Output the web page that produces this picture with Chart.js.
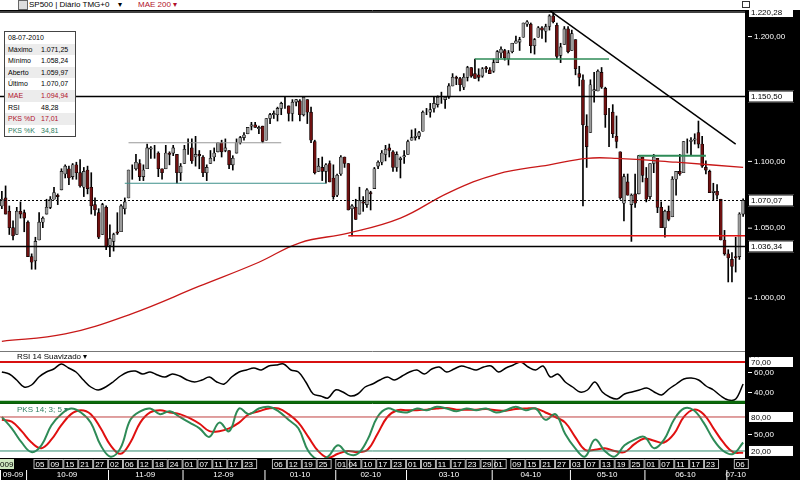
<!DOCTYPE html>
<html><head><meta charset="utf-8">
<script src="https://cdn.jsdelivr.net/npm/chart.js@4.4.1/dist/chart.umd.min.js"></script>
<style>
body{margin:0;width:800px;height:480px;position:relative;background:#fff;font-family:"Liberation Sans",Arial,sans-serif;overflow:hidden}
.cv{position:absolute;left:0;width:800px}
#hdr{position:absolute;left:0;top:0;width:800px;height:10px;font-size:8px;line-height:9px;white-space:nowrap}
.t{position:absolute;font-size:8px;white-space:nowrap}
#info{position:absolute;left:4px;top:31px;width:70px;border:1px solid #444;background:#fff;font-size:7px}
#info div{height:11.6px;line-height:11.6px;padding-left:3px;position:relative}
#info div:nth-child(even){background:#ececec}
#info span{position:absolute;left:36px}
.ic{position:absolute;font-size:8px;line-height:8px}
</style></head><body>
<div class="cv" style="top:10px;height:341px"><canvas id="cp"></canvas></div>
<div class="cv" style="top:351px;height:52px"><canvas id="cr"></canvas></div>
<div class="cv" style="top:403px;height:77px"><canvas id="cs"></canvas></div>
<div id="hdr"><span style="position:absolute;left:18px;top:0;width:8px;height:8px;border:1px solid #666;background:#ddd"></span><span style="position:absolute;left:29px;top:0">SP500 | Diário TMG+0 &nbsp;&nbsp;&nbsp;▾</span><span style="position:absolute;left:138px;top:0;color:#b0102a">MAE 200 ▾</span><span style="position:absolute;left:742px;top:1px;width:6px;height:5px;border:1px solid #333"></span></div>
<div class="t" style="left:17px;top:352px">RSI 14 Suavizado ▾</div>
<div class="t" style="left:17px;top:405px;color:#2e7d60">PKS 14; 3; 5 ▾</div>
<div class="ic" style="left:746px;top:352px">□ ✕</div>
<div class="ic" style="left:746px;top:404px">□ ✕</div>
<div id="info">
<div>08-07-2010</div>
<div>Máximo<span>1.071,25</span></div>
<div>Mínimo<span>1.058,24</span></div>
<div>Aberto<span>1.059,97</span></div>
<div>Último<span>1.070,07</span></div>
<div style="color:#b0102a">MAE<span>1.094,94</span></div>
<div>RSI<span>48,28</span></div>
<div style="color:#b0102a">PKS %D<span>17,01</span></div>
<div style="color:#2e7d60">PKS %K<span>34,81</span></div>
</div>
<script>
// ---- calendar ----
const monthLabels = ['09-09','10-09','11-09','12-09','01-10','02-10','03-10','04-10','05-10','06-10','07-10'];
const monthDays = [
 [22,23,24,25,28,29,30],
 [1,2,5,6,7,8,9,12,13,14,15,16,19,20,21,22,23,26,27,28,29,30],
 [2,3,4,5,6,9,10,11,12,13,16,17,18,19,20,23,24,25,27,30],
 [1,2,3,4,7,8,9,10,11,14,15,16,17,18,21,22,23,24,28,29,30,31],
 [4,5,6,7,8,11,12,13,14,15,19,20,21,22,25,26,27,28,29],
 [1,2,3,4,5,8,9,10,11,12,16,17,18,19,22,23,24,25,26],
 [1,2,3,4,5,8,9,10,11,12,15,16,17,18,19,22,23,24,25,26,29,30,31],
 [1,5,6,7,8,9,12,13,14,15,16,19,20,21,22,23,26,27,28,29,30],
 [3,4,5,6,7,10,11,12,13,14,17,18,19,20,21,24,25,26,27,28],
 [1,2,3,4,7,8,9,10,11,14,15,16,17,18,21,22,23,24,25,28,29,30],
 [1,2,6,7,8]
];
const tickDays = [[],[5,9,15,21,27],[2,6,12,18,24],[1,7,11,17,23],[6,12,19,25],[1,4,10,17,23],[1,5,11,17,23,29],[1,9,15,21,27],[3,7,13,19,25],[1,7,11,17,23],[6]];

// ---- price OHLC ----
const opens = [1066,1072,1062,1050,1045,1062,1061,
1054,1029,1026,1041,1054,1060,1065,1071,1074,1078,1090,1094,1088,1097,1091,1080,1093,1080,1067,1061,1045,1065,
1037,1040,1047,1047,1064,1072,1093,1094,1098,1088,1094,1109,1109,1106,1094,1094,1106,1106,1105,1091,
1098,1109,1110,1103,1105,1103,1091,1098,1103,1107,1114,1108,1108,1097,1106,1114,1118,1121,1127,1128,1125,1127,
1116,1133,1136,1136,1141,1146,1143,1137,1146,1147,1136,1148,1138,1115,1092,1095,1092,1098,1087,
1074,1090,1103,1098,1064,1065,1060,1069,1067,1076,1079,1096,1099,1105,1110,1107,1095,1101,1103,
1105,1116,1118,1119,1123,1138,1138,1141,1144,1150,1148,1150,1159,1166,1165,1158,1166,1174,1169,1168,1167,1174,1172,
1171,1178,1186,1188,1181,1187,1194,1195,1199,1210,1210,1192,1199,1207,1204,1208,1217,1209,1184,1193,1206,
1188,1197,1169,1164,1127,1122,1155,1155,1170,1157,1136,1138,1119,1107,1068,1084,1067,1075,1075,1103,
1087,1073,1098,1102,1065,1050,1062,1058,1086,1092,1091,1114,1115,1116,1122,1113,1095,1092,1076,1077,1071,1041,
1031,1027,1029,1029,1059.97];
const highs = [1077,1081,1066,1055,1065,1069,1063,
1055,1031,1043,1061,1058,1071,1073,1080,1075,1094,1097,1096,1098,1099,1101,1095,1096,1091,1072,1064,1068,1066,
1052,1046,1061,1067,1072,1093,1097,1105,1101,1097,1113,1111,1112,1107,1094,1112,1107,1112,1105,1098,
1112,1117,1117,1119,1108,1104,1097,1108,1110,1114,1116,1117,1108,1104,1117,1119,1122,1126,1130,1130,1127,1127,
1133,1137,1139,1142,1146,1150,1143,1148,1148,1148,1150,1148,1142,1116,1102,1103,1098,1100,1097,
1090,1104,1103,1098,1067,1071,1080,1073,1079,1077,1095,1100,1108,1112,1113,1108,1107,1103,1108,
1116,1124,1125,1123,1139,1141,1145,1150,1151,1154,1150,1161,1169,1167,1166,1169,1175,1174,1181,1173,1174,1175,1174,
1181,1188,1191,1189,1188,1194,1200,1199,1211,1213,1211,1198,1208,1208,1210,1218,1220,1211,1194,1208,1208,
1205,1197,1175,1168,1136,1164,1170,1172,1174,1158,1141,1144,1135,1107,1090,1090,1075,1090,1104,1103,
1095,1098,1105,1102,1069,1063,1066,1088,1092,1105,1115,1117,1118,1121,1131,1119,1100,1093,1083,1082,1071,1048,
1034,1032,1043,1061,1071.25];
const lows = [1064,1060,1045,1041,1045,1057,1047,
1029,1020,1020,1041,1050,1060,1064,1071,1067,1078,1087,1082,1086,1086,1080,1073,1075,1060,1059,1042,1045,1034,
1029,1033,1045,1047,1060,1072,1086,1093,1085,1085,1094,1102,1102,1088,1086,1094,1097,1104,1083,1085,
1098,1105,1098,1096,1094,1088,1085,1098,1100,1107,1103,1107,1094,1093,1106,1113,1116,1121,1124,1126,1121,1114,
1116,1129,1133,1131,1136,1141,1131,1131,1143,1131,1135,1129,1114,1090,1092,1085,1083,1084,1071,
1073,1089,1095,1063,1044,1056,1060,1062,1065,1063,1079,1094,1097,1100,1103,1092,1092,1087,1098,
1105,1116,1116,1117,1123,1136,1134,1138,1142,1145,1141,1149,1159,1160,1155,1156,1163,1166,1165,1163,1166,1170,1169,
1170,1178,1182,1180,1176,1186,1194,1188,1199,1208,1186,1185,1199,1198,1195,1205,1211,1181,1178,1193,1186,
1188,1168,1159,1066,1095,1122,1146,1155,1157,1126,1111,1118,1110,1071,1055,1074,1040,1065,1075,1084,
1069,1071,1091,1061,1050,1043,1055,1058,1074,1089,1091,1106,1104,1113,1110,1095,1090,1076,1070,1071,1041,1030,
1011,1011,1018,1027,1058.24];
const closes = [1071,1060,1050,1044,1062,1060,1057,
1029,1025,1040,1054,1057,1065,1071,1076,1073,1092,1096,1087,1097,1091,1081,1092,1079,1066,1063,1043,1067,1036,
1042,1045,1046,1066,1069,1093,1093,1099,1088,1093,1110,1110,1109,1094,1091,1106,1105,1110,1091,1096,
1109,1109,1100,1105,1104,1091,1095,1102,1106,1114,1107,1110,1097,1102,1114,1118,1120,1126,1128,1126,1126,1115,
1133,1136,1137,1141,1145,1146,1137,1146,1148,1136,1150,1138,1116,1091,1096,1092,1097,1084,1073,
1089,1103,1098,1063,1066,1056,1070,1068,1078,1075,1094,1099,1106,1109,1108,1095,1105,1102,1104,
1115,1118,1119,1122,1138,1138,1140,1145,1150,1150,1150,1159,1166,1165,1160,1166,1174,1167,1165,1166,1173,1173,1169,
1178,1187,1189,1182,1186,1194,1196,1197,1211,1212,1192,1197,1207,1205,1208,1217,1212,1183,1191,1206,1187,
1202,1173,1166,1128,1111,1160,1156,1171,1158,1136,1136,1121,1115,1072,1088,1074,1074,1068,1104,1089,
1071,1098,1103,1065,1050,1062,1056,1086,1092,1090,1115,1114,1116,1117,1113,1096,1093,1076,1077,1074,1041,1031,
1028,1022,1028,1060,1070.07];

// MAE 200 (day index, value)
const maeDays = [0,17,35,53,69,80,93,107,120,133,147,157,165,181,199];
const maeVals = [970,975,989,1008,1025,1039,1046,1057,1076,1090,1097,1102,1102,1099,1095];

// price levels
const priceTicks = [1000,1036.34,1050,1070.07,1100,1150.5,1200,1220.28];
const priceBoxed = [1036.34,1070.07,1150.5,1220.28];

// RSI 14 (evenly spaced across the period)
const rsi = [60,58,52,45,47,55,60,63,68,64,60,52,45,42,45,50,56,60,61,58,60,57,55,58,56,52,50,52,55,50,48,55,60,62,64,62,66,67,68,62,60,50,38,36,34,42,40,36,38,45,48,52,55,52,56,60,62,58,63,65,60,63,66,64,62,65,66,60,64,67,70,65,62,66,55,58,50,45,40,42,50,40,35,33,38,40,42,44,40,37,43,48,53,54,52,46,42,36,32,33,48];
// Stochastic %K and %D (evenly spaced)
const stochK = [80,60,35,18,30,65,85,95,88,70,30,10,25,75,90,95,85,90,80,70,60,45,70,55,95,85,95,98,90,75,60,20,5,10,30,15,15,40,80,95,90,88,95,92,98,95,90,95,92,95,88,92,98,92,95,75,85,50,25,10,40,20,10,30,40,45,25,40,75,95,92,70,40,20,15,35];
const stochD = [75,72,55,35,25,40,65,85,92,85,60,30,15,35,70,88,92,88,85,78,68,55,55,60,70,85,90,95,95,85,70,45,20,8,15,20,18,22,50,80,92,92,92,93,95,96,93,93,93,94,92,91,94,95,95,88,80,70,45,22,22,25,20,18,32,42,38,35,50,80,93,85,60,35,18,17];

// ---- build ----
const N = closes.length;
const dayNum = [], monthStart = [];
monthDays.forEach((arr,m)=>{monthStart.push(dayNum.length); arr.forEach(d=>dayNum.push({m,d}));});
const XMIN=-0.5, XMAX=N-0.5;
const spread = (arr)=>arr.map((v,i)=>({x:i*(N-1)/(arr.length-1),y:v}));
const hline = (v,a,b)=>[{x:a,y:v},{x:b,y:v}];
const fmt = v=>v.toLocaleString('pt-BR',{minimumFractionDigits:2,maximumFractionDigits:2});

const axisPlugin = {
  id:'raxis',
  beforeDraw(c){const a=c.chartArea,x=c.ctx;x.save();x.fillStyle='#000';x.fillRect(a.right,0,c.width-a.right,c.height);x.restore();},
  afterDraw(c,args,o){
    const a=c.chartArea,x=c.ctx,ys=c.scales.y;x.save();
    x.strokeStyle=o.border||'#777';x.lineWidth=1;x.beginPath();x.moveTo(0,a.top+0.5);x.lineTo(a.right,a.top+0.5);x.stroke();
    x.font='8px "Liberation Sans", Arial';x.textBaseline='middle';
    (o.ticks||[]).forEach(v=>{
      const y=ys.getPixelForValue(v); if(y<a.top-2||y>a.bottom+2) return;
      const boxed=(o.boxed||[]).includes(v);
      if(boxed){x.fillStyle='#fff';x.fillRect(a.right+3,y-6,46,12);x.strokeStyle='#000';x.strokeRect(a.right+3.5,y-5.5,45,11);x.fillStyle='#000';}
      else{x.strokeStyle='#fff';x.beginPath();x.moveTo(a.right+3,y+0.5);x.lineTo(a.right+7,y+0.5);x.stroke();x.fillStyle='#fff';}
      x.fillText(fmt(v),a.right+(boxed?6:9),y+0.5);
    });
    if(o.dates){
      const xs=c.scales.x,top=a.bottom;x.fillStyle='#000';x.fillRect(0,top,c.width,c.height-top);
      x.strokeStyle='#bbb';x.fillStyle='#fff';x.textBaseline='middle';
      dayNum.forEach((dn,i)=>{ if(!tickDays[dn.m].includes(dn.d)) return;
        const L=xs.getPixelForValue(i-0.5);x.strokeRect(L+0.5,top+1.5,14,9);x.fillText(String(dn.d).padStart(2,'0'),L+2,top+6.5);});
      x.fillStyle='#cfe8c0';x.fillRect(0,top+1,14,10);x.fillStyle='#000';x.fillText('009',0,top+6.5);
      x.fillStyle='#fff';x.textAlign='center';
      monthStart.forEach((s,m)=>{const L=xs.getPixelForValue(s-0.5);const e=m+1<monthStart.length?monthStart[m+1]:N;
        const R=xs.getPixelForValue(e-0.5);x.strokeStyle='#fff';x.beginPath();x.moveTo(L+0.5,top+12);x.lineTo(L+0.5,c.height);x.stroke();
        x.fillText(monthLabels[m],(L+R)/2,top+17);});
    }
    x.restore();
  }
};
Chart.register(axisPlugin);

const baseX = {type:'linear',min:XMIN,max:XMAX,offset:false,display:false};
const yAxis = (min,max,type)=>({type:type||'linear',position:'right',min,max,display:true,ticks:{display:false},grid:{display:false},border:{display:false},afterFit(s){s.width=55;}});
const common = {responsive:true,maintainAspectRatio:false,animation:false,events:[],layout:{padding:0},plugins:{legend:{display:false},tooltip:{enabled:false}}};
const L = (data,color,w,extra)=>Object.assign({type:'line',data,borderColor:color,borderWidth:w,pointRadius:0,fill:false,order:1},extra||{});

// price chart
const wicks=[],bodiesUp=[],bodiesDn=[];
for(let i=0;i<N;i++){wicks.push({x:i,y:[lows[i],highs[i]]});
 const b={x:i,y:[opens[i],closes[i]]}; (closes[i]>=opens[i]?bodiesUp:bodiesDn).push(b);}
new Chart(document.getElementById('cp'),{type:'bar',data:{datasets:[
  L(hline(1220.28,XMIN,XMAX),'#000',1.5),
  L(hline(1150.5,XMIN,XMAX),'#000',1.5),
  L(hline(1036.34,XMIN,XMAX),'#000',1.5),
  L(hline(1070.07,XMIN,XMAX),'#000',1.2,{borderDash:[2,2]}),
  L(hline(1044,93,XMAX),'#e01010',1.5),
  L(hline(1114,34,75),'#999',1.2),
  L(hline(1083,33,87),'#3d8f8a',1.2),
  L(hline(1181,127,163),'#2e8b57',1.5),
  L(hline(1104,171,189),'#2e8b57',2),
  L([{x:146,y:1224},{x:197,y:1113}],'#000',1.5),
  L(maeDays.map((d,i)=>({x:d,y:maeVals[i]})),'#c81818',1.3,{tension:0.4}),
  {type:'bar',data:wicks,backgroundColor:'#000',barThickness:1,grouped:false,order:3},
  {type:'bar',data:bodiesUp,backgroundColor:'#9a9a9a',borderColor:'#000',borderWidth:0.6,borderSkipped:false,barThickness:3,grouped:false,order:2},
  {type:'bar',data:bodiesDn,backgroundColor:'#6e1010',borderColor:'#000',borderWidth:0.6,borderSkipped:false,barThickness:3,grouped:false,order:2}
]},options:Object.assign({},common,{scales:{x:baseX,y:yAxis(963.5,1222,'logarithmic')},
  plugins:Object.assign({},common.plugins,{raxis:{ticks:priceTicks,boxed:priceBoxed,border:'#000'}})})});

// RSI chart
new Chart(document.getElementById('cr'),{type:'line',data:{datasets:[
  L(hline(70,XMIN,XMAX),'#d81010',2),
  L(hline(30,XMIN,XMAX),'#0a6a0a',2.5),
  L(spread(rsi),'#000',1.5,{tension:0.35})
]},options:Object.assign({},common,{scales:{x:baseX,y:yAxis(29,81)},
  plugins:Object.assign({},common.plugins,{raxis:{ticks:[40,60,70],boxed:[70],border:'#777'}})})});

// Stochastic chart
new Chart(document.getElementById('cs'),{type:'line',data:{datasets:[
  L(hline(80,XMIN,XMAX),'#c04040',1),
  L(hline(20,XMIN,XMAX),'#2e8b6e',1),
  L(spread(stochK),'#2e8b57',2,{tension:0.4}),
  L(spread(stochD),'#e01010',2,{tension:0.4})
]},options:Object.assign({},common,{scales:{x:Object.assign({},baseX,{display:true,ticks:{display:false},grid:{display:false},border:{display:false},afterFit(s){s.height=22;}}),y:yAxis(7.6,104.7)},
  plugins:Object.assign({},common.plugins,{raxis:{ticks:[20,50,80],boxed:[20,80],border:'#0a5a0a',dates:true}})})});
</script>
</body></html>
